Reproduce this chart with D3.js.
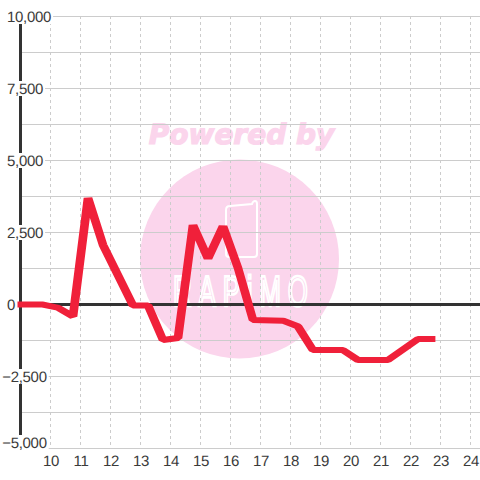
<!DOCTYPE html>
<html><head><meta charset="utf-8">
<script src="https://cdnjs.cloudflare.com/ajax/libs/d3/7.8.5/d3.min.js"></script>
<style>html,body{margin:0;padding:0;background:#fff}svg{display:block}text{text-rendering:geometricPrecision}</style></head>
<body><div id="c"></div>
<script>
const hours = [8.9,9.75,10.25,10.75,11.25,11.75,12.75,13.25,13.75,14.25,14.75,15.25,15.75,16.25,16.75,17.75,18.25,18.75,19.75,20.25,21.25,22.25,22.83];
const values = [-20,-20,-130,-430,3680,2050,-50,-50,-1250,-1180,2740,1580,2700,1250,-555,-580,-780,-1600,-1600,-1945,-1945,-1215,-1215];
const xTicks = [10,11,12,13,14,15,16,17,18,19,20,21,22,23,24];
const yGrid = [10000,8750,7500,6250,5000,3750,2500,1250,0,-1250,-2500,-3750,-5000];
const yLabels = [10000,7500,5000,2500,0,-2500,-5000];
const watermarkTop = "Powered by";
const watermarkLogo = "RAPiMO";

const W=480,H=480;
const x=d3.scaleLinear().domain([10,24]).range([50.5,470.5]);
const y=d3.scaleLinear().domain([-5000,10000]).range([448,16]);
const svg=d3.select("#c").append("svg").attr("width",W).attr("height",H);
const pink="#fbd5ec";
const ff="'Liberation Sans',Arial,sans-serif";

// watermark
svg.append("circle").attr("cx",239.5).attr("cy",259).attr("r",99.5).attr("fill",pink);
svg.append("text").attr("x",241.5).attr("y",144).attr("text-anchor","middle")
  .attr("font-family","'DejaVu Sans'").attr("font-weight","bold").attr("font-style","italic")
  .attr("font-size",28).attr("fill",pink).attr("stroke",pink).attr("stroke-width",1.2).text(watermarkTop);
svg.append("path").attr("d","M230 206 L252 204 Q253 201 255 201 Q257 201 257 204 L257 254 Q257 257 254 257 L229 257 Q226 257 226 254 L226 210 Q226 206 230 206 Z")
  .attr("fill","none").attr("stroke","#fff").attr("stroke-width",2);
svg.append("text").attr("transform","translate(173,306) scale(.6,1)").attr("font-family",ff).attr("font-size",43)
  .attr("letter-spacing",11.5).attr("fill","none").attr("stroke","#fff").attr("stroke-width",2.6).text(watermarkLogo);

// grid
svg.append("g").selectAll("line").data(xTicks).join("line")
  .attr("x1",d=>x(d)).attr("x2",d=>x(d)).attr("y1",16).attr("y2",448)
  .attr("stroke","#ccc").attr("stroke-dasharray","3 3");
svg.append("g").selectAll("line").data(yGrid).join("line")
  .attr("x1",20).attr("x2",W).attr("y1",d=>y(d)+.5).attr("y2",d=>y(d)+.5)
  .attr("stroke","#ccc");

// axes
svg.append("line").attr("x1",20.5).attr("x2",20.5).attr("y1",16).attr("y2",448).attr("stroke","#333").attr("stroke-width",3);
svg.append("line").attr("x1",20).attr("x2",W).attr("y1",y(0)+.5).attr("y2",y(0)+.5).attr("stroke","#333").attr("stroke-width",3);

// y labels with white knock-out
const yl=svg.append("g");
yLabels.forEach(v=>{
  const yy=Math.min(y(v),442);
  const neg=v<0;
  const g=yl.append("g");
  const t=g.append("text").attr("x",neg?2.2:7).attr("y",yy+6).attr("font-family",ff).attr("font-size",15).attr("letter-spacing",-.3).attr("fill","#3a3a3a")
    .text(d3.format(",")(v));
  const b=t.node().getBBox();
  g.insert("rect","text").attr("x",b.x).attr("y",yy-7).attr("width",b.width+2).attr("height",15).attr("fill","#fff");
});
svg.append("g").selectAll("text").data(xTicks).join("text")
  .attr("x",d=>x(d)+.5).attr("y",466).attr("text-anchor","middle").attr("font-family",ff).attr("font-size",15).attr("letter-spacing",-.3).attr("fill","#3a3a3a").text(d=>d);

// series: pen is slightly wider horizontally than vertically, as in the reference
const penX=1.45;
const line=d3.line().x((d,i)=>x(hours[i])/penX).y(d=>y(d));
svg.append("g").attr("transform",`scale(${penX},1)`)
  .append("path").datum(values).attr("d",line).attr("fill","none").attr("stroke","#f0203a").attr("stroke-width",6).attr("stroke-linejoin","bevel");
</script></body></html>
